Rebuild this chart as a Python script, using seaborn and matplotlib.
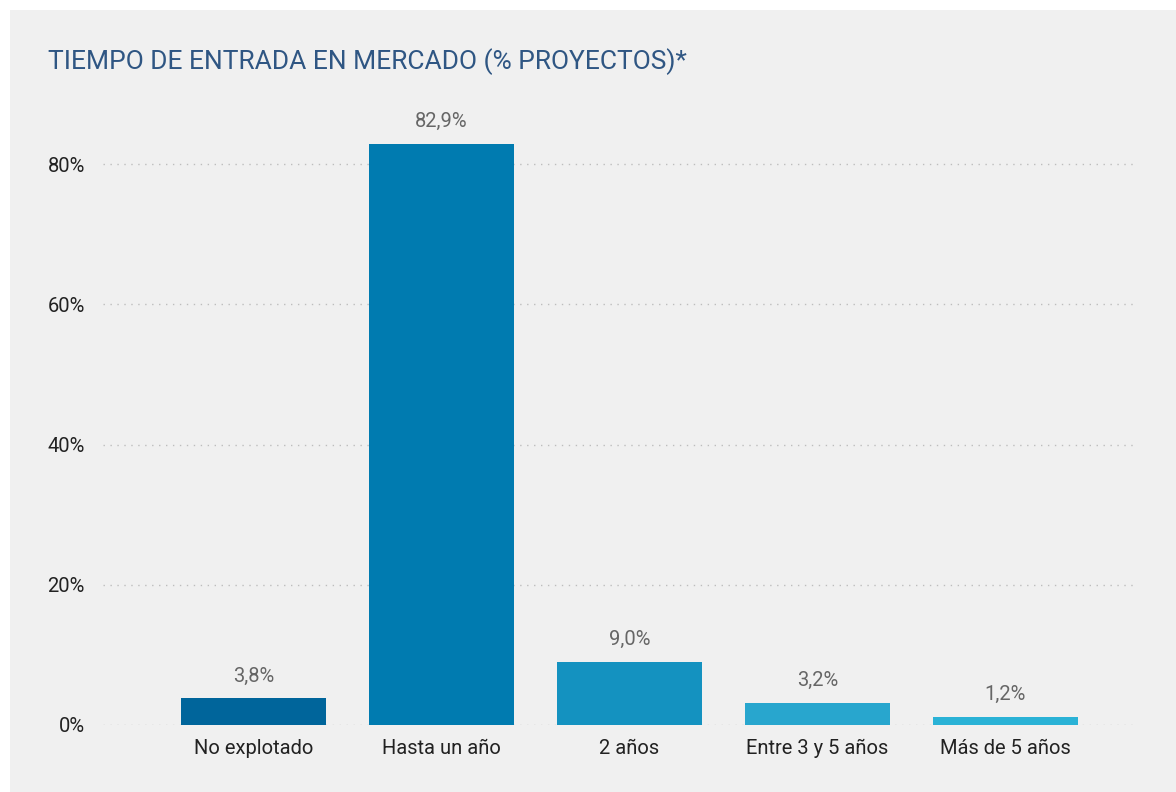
import matplotlib
matplotlib.use("Agg")
import matplotlib.pyplot as plt
import seaborn as sns
import pandas as pd
from matplotlib.patches import Rectangle
from matplotlib.ticker import FuncFormatter

categories = ["No explotado", "Hasta un año", "2 años", "Entre 3 y 5 años", "Más de 5 años"]
values = [3.8, 82.9, 9.0, 3.2, 1.2]
value_labels = ["3,8%", "82,9%", "9,0%", "3,2%", "1,2%"]
yticks = [0, 20, 40, 60, 80]
colors = ["#00659b", "#007bb0", "#1492c0", "#28a6ce", "#2ab2d6"]
title = "TIEMPO DE ENTRADA EN MERCADO (% PROYECTOS)*"

sns.set_theme(style="white")
plt.rcParams["font.family"] = ["Roboto", "DejaVu Sans"]

W, H = 1176, 792
fig = plt.figure(figsize=(W / 100, H / 100), dpi=100, facecolor="white")
fig.patches.append(Rectangle((10 / W, 0), 1 - 10 / W, (H - 10) / H,
                             transform=fig.transFigure, facecolor="#f0f0f0",
                             edgecolor="none", zorder=-10))

ax_left, ax_right = 103, 1135
ax_bottom, ax_top = 725, 94
ax = fig.add_axes([ax_left / W, 1 - ax_bottom / H, (ax_right - ax_left) / W, (ax_bottom - ax_top) / H])
ax.set_facecolor("none")

df = pd.DataFrame({"cat": categories, "val": values})
sns.barplot(data=df, x="cat", y="val", hue="cat", palette=colors, legend=False,
            width=0.77, ax=ax, saturation=1, zorder=3, linewidth=0, edgecolor="none")

ax.set_ylim(0, 90)
ax.set_xlim(-0.80, 4.69)
ax.set_yticks(yticks)
ax.yaxis.set_major_formatter(FuncFormatter(lambda v, p: f"{int(v)}%"))
for y in yticks:
    ax.axhline(y, color="#bdbdbd", linestyle=(0, (1, 4)), linewidth=1.0, zorder=1)

for i, (v, lab) in enumerate(zip(values, value_labels)):
    ax.annotate(lab, (i, v), xytext=(0, 9), textcoords="offset points",
                ha="center", va="bottom", fontsize=14.5, color="#666666")

for s in ax.spines.values():
    s.set_visible(False)
ax.tick_params(axis="both", length=0, labelsize=14.5, labelcolor="#222222")
ax.tick_params(axis="y", pad=13)
ax.tick_params(axis="x", pad=10)
ax.set_xlabel("")
ax.set_ylabel("")

fig.text(48 / W, 1 - 62 / H, title, fontsize=19, color="#2f5683",
         ha="left", va="center")

fig.savefig("out.png", dpi=100, facecolor="white")
